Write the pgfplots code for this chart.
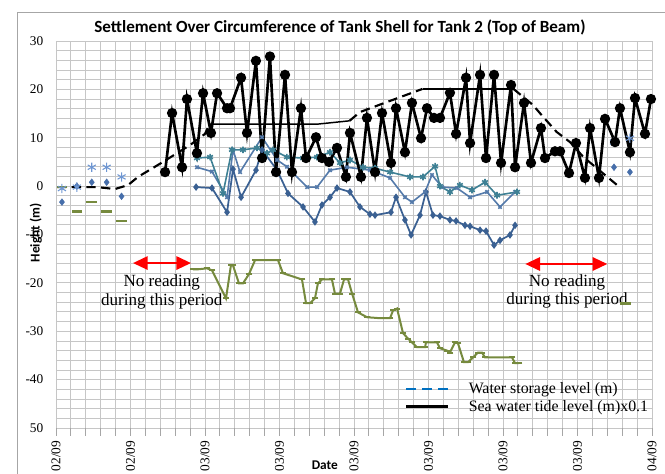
\documentclass[border=0pt]{standalone}
\usepackage{fontspec}
\setmainfont{Liberation Serif}
\newfontfamily\carlito{Carlito}
\usepackage{pgfplots}
\pgfplotsset{compat=1.18}
\usetikzlibrary{arrows.meta}
\definecolor{dkblue}{RGB}{58,96,146}
\definecolor{mdblue}{RGB}{84,122,170}
\definecolor{tealb}{RGB}{62,128,148}
\definecolor{olive}{RGB}{118,138,62}
\definecolor{scblue}{RGB}{70,110,170}
\definecolor{ltblue}{RGB}{110,150,210}
\definecolor{legblue}{RGB}{0,112,192}
\begin{document}
\begin{tikzpicture}
\begin{axis}[
  at={(0,0)}, anchor=south west,
  scale only axis, width=447pt, height=290.25pt,
  xmin=0, xmax=40, ymin=-50, ymax=30,
  axis line style={draw=none},
  xtick={0,5,...,40},
  xticklabels={02/09,02/09,03/09,03/09,03/09,03/09,03/09,03/09,04/09},
  minor x tick num=4,
  ytick={-50,-40,...,30},
  yticklabels={50,-40,-30,-20,-10,0,10,20,30},
  minor y tick num=4,
  grid=both,
  major grid style={gray!45, line width=0.6pt},
  minor grid style={gray!45, line width=0.6pt},
  tick align=outside,
  xtick pos=bottom, ytick pos=left,
  x tick style={gray!70, line width=0.6pt},
  y tick style={draw=none},
  major tick length=6pt, minor tick length=6pt,
  xticklabel style={rotate=90, anchor=east, font=\fontsize{10}{12}\selectfont},
  yticklabel style={font=\fontsize{10}{12}\selectfont},
  legend style={at={(axis description cs:0.578,0.13)}, anchor=north west, draw=none, fill=none,
    font=\fontsize{11.9}{14}\selectfont, row sep=0.5pt, nodes={inner sep=1.5pt},
    /tikz/every odd column/.append style={column sep=13pt}},
  legend cell align=left,
  legend image code/.code={\draw[#1] (0pt,0pt) -- (31pt,0pt);},
  clip=false,
]
\addlegendimage{legblue, line width=2pt, dash pattern=on 7pt off 5pt}
\addlegendentry{Water storage level (m)}
\addlegendimage{black, line width=2.5pt}
\addlegendentry{Sea water tide level (m)x0.1}

% olive main series
\addplot[olive, line width=1.5pt, mark=-, mark size=2.5pt, forget plot] table {
9.19 -17.2
9.53 -17.2
10.13 -17.0
10.47 -17.4
11.41 -23.2
11.74 -16.4
11.88 -16.4
12.28 -20.1
12.55 -20.1
12.95 -18.2
13.36 -15.3
13.83 -15.3
14.36 -15.3
14.90 -15.3
15.23 -18.0
16.51 -19.3
16.78 -24.2
17.05 -24.2
17.38 -23.2
17.58 -20.1
17.85 -19.3
18.52 -19.3
18.72 -22.2
19.06 -22.2
19.33 -19.3
19.60 -19.3
19.87 -22.2
20.27 -26.1
20.87 -27.1
21.74 -27.3
22.42 -27.3
22.62 -25.7
22.89 -25.3
23.29 -30.4
23.62 -31.5
23.89 -32.3
24.23 -33.3
24.77 -33.3
24.83 -32.3
25.57 -32.3
25.77 -33.5
26.24 -34.0
26.44 -34.4
26.78 -32.3
26.98 -32.5
27.38 -36.4
27.65 -36.4
27.99 -35.4
28.32 -34.4
28.59 -34.4
28.79 -35.4
30.60 -35.4
30.81 -36.6
31.07 -36.6
};
% olive isolated readings
\addplot[olive, only marks, mark=-, mark size=4pt, line width=2pt, forget plot] table {
0.4 -0.2
1.4 -5.2
2.4 -3.3
3.4 -5.2
4.4 -7.2
38.2 -24.2
};

% dark blue diamonds
\addplot[dkblue, line width=1.3pt, mark=diamond*, mark size=1.8pt, forget plot] table {
9.40 -0.2
10.47 -0.4
11.48 -5.4
11.88 3.5
12.42 -2.3
13.42 3.3
13.83 7.5
14.84 3.3
15.57 -1.5
16.58 -4.3
17.38 -7.4
17.85 -3.9
18.39 -2.3
18.86 -0.4
19.73 -1.2
20.40 -4.3
21.07 -5.8
21.41 -6.0
22.48 -5.4
22.82 -2.3
23.42 -7.0
23.83 -10.1
24.43 -6.0
24.83 -1.2
25.30 -6.0
25.77 -6.2
26.44 -7.0
26.85 -7.2
27.45 -8.1
27.79 -8.3
28.46 -9.1
28.86 -9.3
29.40 -12.2
29.80 -11.2
30.47 -10.1
30.81 -8.1
};
% medium blue
\addplot[mdblue, line width=1.2pt, mark=x, mark size=1.8pt, forget plot] table {
9.46 3.9
10.47 3.0
11.48 -2.3
11.88 7.5
12.35 2.9
13.83 10.1
14.84 5.4
15.50 4.0
16.85 -0.2
17.52 -0.2
18.39 3.3
19.53 3.9
21.07 3.3
22.42 1.7
23.42 -2.3
23.89 -3.3
24.77 -1.2
25.23 2.3
25.91 -0.2
26.91 -0.4
27.79 -2.3
28.93 -1.2
29.80 -4.3
30.81 -1.2
};
% teal asterisks
\addplot[tealb, line width=1.2pt, mark=asterisk, mark size=2.5pt, forget plot] table {
9.46 5.8
10.34 6.0
11.21 -1.5
11.81 7.5
12.55 7.5
13.49 7.9
14.16 6.8
14.56 7.5
15.50 6.0
16.58 5.8
17.52 6.0
18.39 7.0
19.06 4.8
19.73 5.4
20.60 3.9
21.41 3.7
22.42 2.9
23.76 1.9
24.63 1.9
25.44 4.1
25.77 0.0
26.44 -1.2
27.11 0.2
27.92 -0.8
28.79 0.8
29.60 -1.9
30.94 -1.2
};
% isolated blue readings
\addplot[scblue, only marks, mark=diamond*, mark size=2.5pt, forget plot] table {
0.4 -3.3
1.4 0.0
2.4 0.8
3.4 0.8
4.4 -2.1
37.45 3.9
38.52 2.9
};
\addplot[ltblue, only marks, mark=asterisk, mark size=3.5pt, line width=0.8pt, forget plot] table {
0.4 -0.5
1.4 -0.2
2.4 3.9
3.4 3.9
4.4 1.9
37.45 9.1
38.52 9.9
};

% storage level line (dashed and solid parts)
\addplot[black, line width=1.6pt, dash pattern=on 7pt off 4pt, forget plot] table {
0.07 -0.2
2.75 -0.2
3.96 -0.6
4.83 0.2
5.5 1.9
7.18 5.0
9.0 8.5
10.0 10.8
10.3 12.8
};
\addplot[black, line width=1.1pt, forget plot] table {
10.3 12.8
15.9 12.8
17.5 12.8
19.7 13.5
};
\addplot[black, line width=1.6pt, dash pattern=on 7pt off 4pt, forget plot] table {
19.7 13.5
20.4 15.3
21.7 16.8
24.6 20.1
};
\addplot[black, line width=1.6pt, forget plot] table {
24.6 20.1
30.7 20.1
};
\addplot[black, line width=1.6pt, dash pattern=on 7pt off 4pt, forget plot] table {
30.7 20.1
32.0 16.8
32.7 14.3
33.6 11.2
34.5 9.1
35.4 6.0
36.3 3.7
37.9 -0.4
};

% sea water tide
\addplot[black, line width=2pt, mark=*, mark size=2.8pt, forget plot] table {
7.32 2.9
7.79 15.1
8.46 3.9
8.79 18.0
9.46 6.8
9.87 19.2
10.40 11.0
10.81 19.2
11.48 16.1
11.68 16.1
12.42 22.4
12.82 11.0
13.42 25.9
13.83 5.8
14.36 26.8
14.77 2.9
15.37 23.0
15.84 2.9
16.44 16.1
16.78 5.8
17.45 10.1
17.85 5.8
18.32 5.0
18.86 7.9
19.46 1.9
19.73 11.0
20.47 1.9
20.87 14.1
21.41 2.9
21.88 15.1
22.48 4.8
22.82 16.1
23.42 7.0
23.89 17.2
24.50 9.9
24.90 16.1
25.37 14.1
25.77 14.1
26.44 19.3
26.85 10.8
27.52 22.4
27.79 8.9
28.46 23.0
28.86 5.8
29.40 23.0
29.87 4.8
30.54 20.9
30.81 3.9
31.41 17.2
31.88 4.8
32.55 12.0
32.82 5.8
33.49 7.2
33.83 7.2
34.43 2.7
34.90 8.9
35.50 1.7
35.84 12.0
36.44 1.7
36.85 13.9
37.52 9.1
37.85 16.1
38.52 7.0
38.86 18.2
39.53 10.8
39.93 18.0
};

% annotations
\draw[red, line width=1.5pt, {Triangle[length=11pt,width=10pt]}-{Triangle[length=11pt,width=10pt]}]
  (axis cs:5.17,-15.9) -- (axis cs:9.06,-15.9);
\draw[red, line width=1.5pt, {Triangle[length=11pt,width=10pt]}-{Triangle[length=11pt,width=10pt]}]
  (axis cs:31.5,-16.1) -- (axis cs:37.0,-16.1);
\node[align=center, font=\fontsize{12.8}{14}\selectfont] at (axis cs:7.1,-21.9) {No reading\\during this period};
\node[align=center, font=\fontsize{12.8}{14}\selectfont] at (axis cs:34.3,-21.8) {No reading\\during this period};

\node[font=\carlito\bfseries\fontsize{12.8}{14}\selectfont] at (axis description cs:0.4765,1.036)
  {Settlement Over Circumference of Tank Shell for Tank 2 (Top of Beam)};
\node[font=\carlito\bfseries\fontsize{10}{12}\selectfont, rotate=90] at (axis description cs:-0.034,0.504) {Height (m)};
\node[font=\carlito\bfseries\fontsize{10}{12}\selectfont] at (axis description cs:0.451,-0.096) {Date};
\end{axis}
\pgfresetboundingbox
\path[use as bounding box] (-42pt,-34.5pt) rectangle (456.75pt,321pt);
\draw[gray!70, line width=0.6pt] (-29.25pt,-40pt) -- (-29.25pt,312pt) -- (460pt,312pt);
\end{tikzpicture}
\end{document}
